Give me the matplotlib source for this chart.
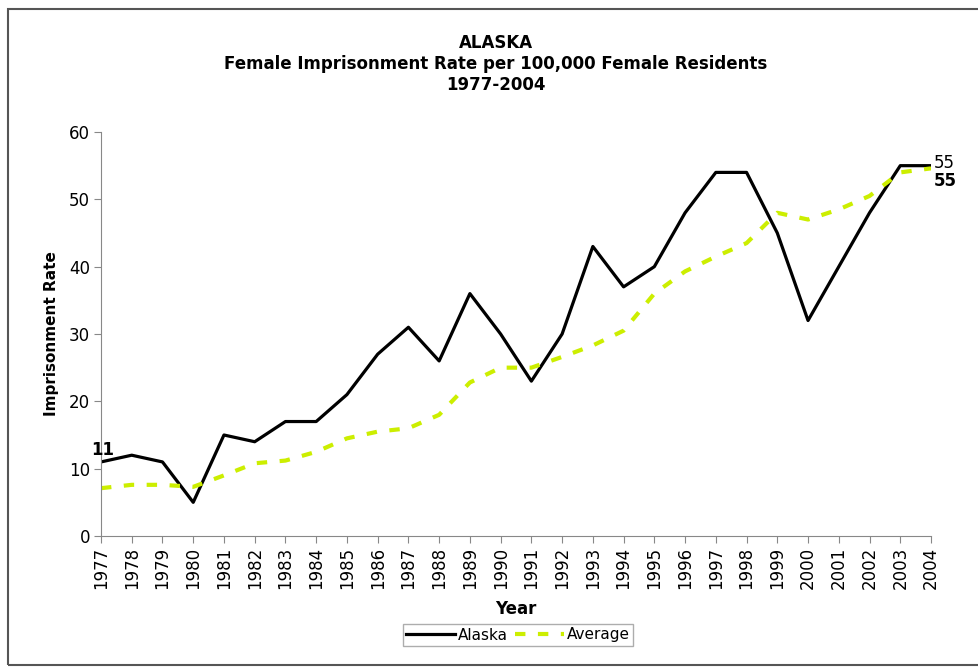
import numpy as np
import matplotlib.pyplot as plt
from matplotlib.patches import Rectangle

years = list(range(1977, 2005))
alaska = [11, 12, 11, 5, 15, 14, 17, 17, 21, 27, 31, 26, 36, 30,
          23, 30, 43, 37, 40, 48, 54, 54, 45, 32, 40, 48, 55, 55]
average = [7.1, 7.6, 7.6, 7.3, 9.0, 10.8, 11.2, 12.5, 14.5, 15.5, 16.0, 18.0,
           22.8, 25.0, 25.0, 26.6, 28.3, 30.5, 36.0, 39.3, 41.5, 43.5, 48.0,
           47.0, 48.5, 50.5, 54.0, 54.6]
yticks = [0, 10, 20, 30, 40, 50, 60]

plt.rcParams['font.family'] = ['DejaVu Sans']

fig = plt.figure(figsize=(9.79, 6.68), dpi=100)
fig.patches.append(Rectangle((8 / 979, 0.005), 1.2, 1 - 0.005 - 9 / 668,
                             transform=fig.transFigure, fill=False,
                             edgecolor='#555555', linewidth=1.5))

ax = fig.add_axes([101 / 979, 1 - 536 / 668, 830 / 979, 404 / 668])
ax.plot(years, alaska, color='black', linewidth=2.3, label='Alaska')
ax.plot(years, average, color='#ccee00', linewidth=3.0, linestyle=(0, (2.5, 3.0)),
        label='Average')

ax.set_xlim(years[0], years[-1])
ax.set_ylim(0, 60)
ax.set_xticks(years)
ax.set_xticklabels([str(y) for y in years], rotation=90, fontsize=12)
ax.set_yticks(yticks)
ax.set_yticklabels([str(v) for v in yticks], fontsize=12)
ax.tick_params(axis='both', direction='out', length=5, color='#888888', pad=3)

for s in ['top', 'right']:
    ax.spines[s].set_visible(False)
for s in ['left', 'bottom']:
    ax.spines[s].set_color('#888888')

ax.set_ylabel('Imprisonment Rate', fontsize=11, fontweight='bold', labelpad=7)
ax.set_xlabel('Year', fontsize=12, fontweight='bold', labelpad=8)

fig.text(496 / 979, 1 - 64 / 668,
         'ALASKA\nFemale Imprisonment Rate per 100,000 Female Residents\n1977-2004',
         ha='center', va='center', fontsize=12, fontweight='bold', linespacing=1.25)

ax.annotate(str(alaska[0]), (years[0], alaska[0]), xytext=(-7, 2),
            textcoords='offset points', fontsize=12, fontweight='bold',
            ha='left', va='bottom')
ax.annotate(str(alaska[-1]), (years[-1], alaska[-1]), xytext=(2, 2),
            textcoords='offset points', fontsize=12, ha='left', va='center',
            annotation_clip=False)
ax.annotate(str(round(average[-1])), (years[-1], average[-1]), xytext=(2, -9),
            textcoords='offset points', fontsize=12, fontweight='bold',
            ha='left', va='center', annotation_clip=False)

leg = fig.legend(loc='center', bbox_to_anchor=(518 / 979, 1 - 635 / 668),
                 ncol=2, fontsize=11, frameon=True, fancybox=False,
                 handlelength=3.2, columnspacing=0.5, handletextpad=0.2,
                 borderpad=0.2, borderaxespad=0)
leg.get_frame().set_edgecolor('#999999')
leg.get_frame().set_linewidth(1)

fig.savefig('out.png', dpi=100)
